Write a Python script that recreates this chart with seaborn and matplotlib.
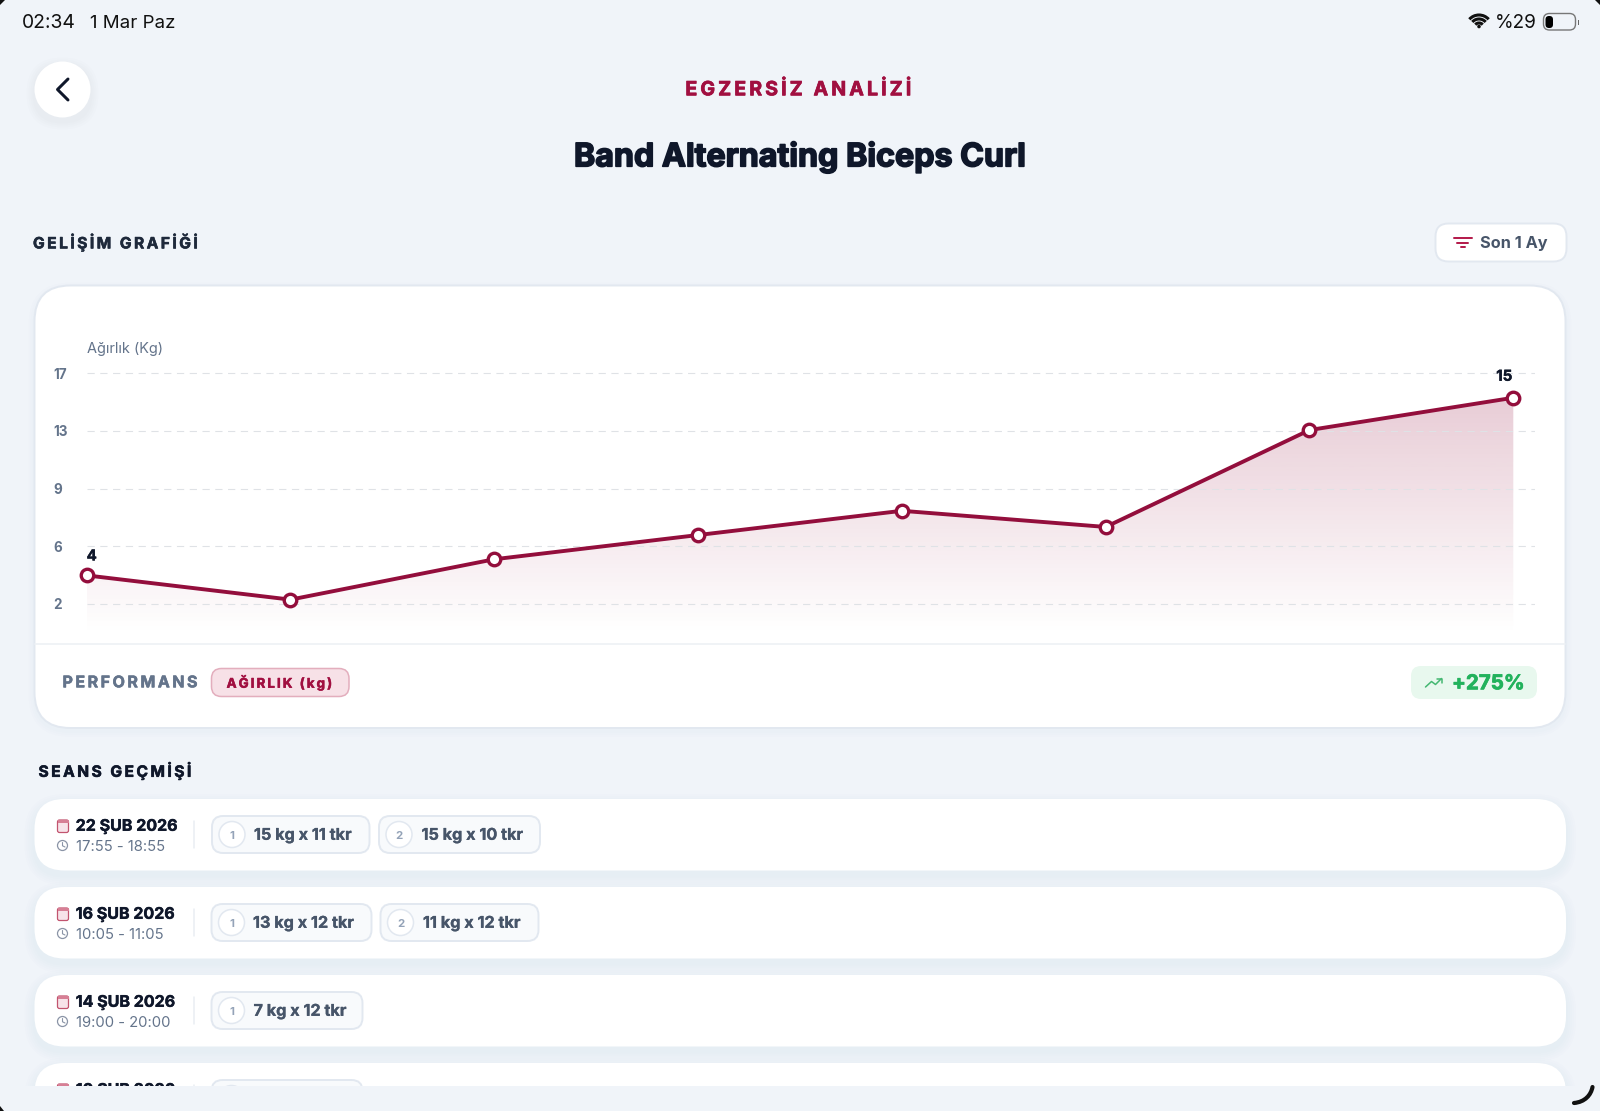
import numpy as np
import pandas as pd
import seaborn as sns
import matplotlib
matplotlib.use("Agg")
import matplotlib.pyplot as plt
import matplotlib.patheffects as pe
from matplotlib.patches import FancyBboxPatch, Circle, Rectangle, PathPatch, Polygon, Arc
from matplotlib.path import Path

# ---- data ----
weights = [4, 2.5, 5, 6.5, 8, 7, 13, 15]
point_ids = list(range(len(weights)))
y_tick_labels = ["17", "13", "9", "6", "2"]
y_tick_values = [16.53, 12.96, 9.37, 5.82, 2.25]
shown_labels = {0: "4", 7: "15"}
session_dates = ["22 ŞUB 2026", "16 ŞUB 2026", "14 ŞUB 2026", "10 ŞUB 2026"]
session_times = ["17:55 - 18:55", "10:05 - 11:05", "19:00 - 20:00", ""]
session_sets = [["15 kg x 11 tkr", "15 kg x 10 tkr"],
                ["13 kg x 12 tkr", "11 kg x 12 tkr"],
                ["7 kg x 12 tkr"],
                ["7 kg x 12 tkr"]]

BG = "#f0f4f9"
CRIM = "#930e3c"
INK = "#0f172a"
SLATE = "#64748b"
CHIP = "#475569"
LINE = "#e2e8f0"
W, H = 1600, 1111
FONT = "Inter"

sns.set_theme(style="white")
plt.rcParams["font.family"] = [FONT, "DejaVu Sans"]

fig = plt.figure(figsize=(W / 100, H / 100), dpi=100, facecolor=BG)
ui = fig.add_axes([0, 0, 1, 1], zorder=0)
ui.set_xlim(0, W)
ui.set_ylim(H, 0)
ui.axis("off")


def px(v):
    return v * 0.72


def spaced(s, sep="\u200a"):
    return sep.join(s)


def T(x, y, s, size, color=INK, weight="normal", ha="left", zorder=5, heavy=0, **kw):
    t = ui.text(x, y + 1.8, s, fontsize=px(size), color=color, fontweight=weight,
                ha=ha, va="center", zorder=zorder, **kw)
    if heavy:
        t.set_path_effects([pe.withStroke(linewidth=heavy, foreground=color)])
    return t


def box(x0, y0, x1, y1, r, fc="white", ec="none", lw=1.0, zorder=2, alpha=None):
    p = FancyBboxPatch((x0 + r, y0 + r), x1 - x0 - 2 * r, y1 - y0 - 2 * r,
                       boxstyle=f"round,pad={r},rounding_size={r}",
                       fc=fc, ec=ec, lw=lw, zorder=zorder, alpha=alpha)
    ui.add_patch(p)
    return p


def shadow(x0, y0, x1, y1, r, spread=10, dy=5, a=0.012):
    for k in range(spread, 0, -2):
        box(x0 - k, y0 - k + dy, x1 + k, y1 + k + dy, r + k, fc="#64748b",
            zorder=1.5, alpha=a)


# ---- status bar ----
T(22, 21.5, "02:34", 19.3, color="#111111")
T(89.5, 21.5, "1 Mar Paz", 18.7, color="#111111")
T(1495, 21.5, "%29", 19, color="#111111")
for r, lw in [(13, 2.2), (9, 2.2), (5, 2.2)]:
    ui.add_patch(Arc((1479, 28), 2 * r, 2 * r, theta1=222, theta2=318, lw=lw, color="#111111", zorder=5))
ui.add_patch(Circle((1479, 26.5), 1.8, fc="#111111", ec="none", zorder=5))
box(1543.5, 13.5, 1575.5, 30, 6, fc="none", ec="#777777", lw=1.0, zorder=5)
box(1545.5, 16, 1553, 28, 3.5, fc="#000000", zorder=5)
ui.add_patch(Rectangle((1577.5, 19.5), 1.3, 5, fc="#666666", ec="none", zorder=5))

# ---- header ----
shadow(34.5, 61.5, 90.5, 117.5, 28, spread=8, dy=4, a=0.012)
ui.add_patch(Circle((62.5, 89.5), 28, fc="white", ec="none", zorder=2))
ui.plot([68, 57.5, 68], [79, 89.5, 100], color=INK, lw=px(3), solid_capstyle="round",
        solid_joinstyle="round", zorder=5)
T(798.5, 88, spaced("EGZERSİZ ANALİZİ", "\u2009"), 19.6, color="#a10f40", weight="bold", ha="center", heavy=0.5)
T(799.5, 155.5, "Band Alternating Biceps Curl", 32.2, color=INK, weight="bold", ha="center", heavy=1.2)

T(33, 240.5, spaced("GELİŞİM GRAFİĞİ", "\u2009"), 15.6, color="#1e293b", weight="bold", heavy=0.4)

# filter button
box(1435.5, 223.5, 1566.5, 261.5, 13, fc="white", ec=LINE, lw=1.4)
for yy, a, b in [(237.5, 1453.5, 1471.5), (242.5, 1457, 1468), (247, 1460.5, 1465)]:
    ui.plot([a, b], [yy, yy], color="#b51e4d", lw=px(2), solid_capstyle="round", zorder=5)
T(1480, 241.5, "Son 1 Ay", 16.3, color=CHIP, weight="bold")

# ---- main card ----
shadow(34.5, 285.5, 1565.5, 728, 36, spread=6, dy=3, a=0.008)
box(34.5, 285.5, 1565.5, 728, 36, fc="white", ec=LINE, lw=1.4)
ui.plot([35, 1565], [643.5, 643.5], color="#eef1f5", lw=1.2, zorder=3)
T(62.5, 681, spaced("PERFORMANS", "\u2009"), 16, color=SLATE, weight="bold", heavy=0.4)
box(211.5, 668.5, 349, 696.5, 10, fc="#f7e1e7", ec="#e3aebd", lw=1.1, zorder=3)
T(279.5, 681.5, spaced("AĞIRLIK (kg)", "\u2009"), 13.3, color="#a10f40", weight="bold", ha="center", heavy=0.4)
box(1411, 666, 1537, 699, 10, fc="#e8f8ee", zorder=3)
ui.plot([1425.5, 1431.5, 1435.5, 1441.5], [687, 681.5, 684.5, 678.5], color="#45b872", lw=1.1, zorder=5)
ui.plot([1436.5, 1441.5, 1441.5], [678.5, 678.5, 683], color="#45b872", lw=1.1, zorder=5)
T(1452, 682.5, "+275%", 20.5, color="#22b25c", weight="bold", heavy=0.5)

# ---- session history ----
T(38.5, 769, spaced("SEANS GEÇMİŞİ", "\u2009"), 15.6, color=INK, weight="bold", heavy=0.4)

card_tops = [799, 887, 975, 1063]
chips_x = [[(212, 369.5), (379, 540)], [(211.5, 371.5), (380.5, 538.5)], [(211.5, 362.5)], [(211.5, 362.5)]]
text_dx = [[42, 42.5], [41.5, 42.5], [42], [42]]
for i, top in enumerate(card_tops):
    bot = top + 71.5
    shadow(34.5, top, 1566, bot, 30, spread=10, dy=5, a=0.009)
    box(34.5, top, 1566, bot, 30, fc="white")
    # calendar icon
    yc = top + 27
    box(57.5, yc - 6, 68.5, yc + 6.5, 2, fc="#f7e3e9", ec="#c2546f", lw=0.9, zorder=4)
    ui.add_patch(Rectangle((57.5, yc - 6), 11, 3, fc="#d77f95", ec="none", zorder=4))
    T(75.7, top + 25.5, session_dates[i], 16, color=INK, weight="bold", heavy=0.3)
    if session_times[i]:
        ui.add_patch(Circle((62.5, top + 46.5), 5, fc="none", ec="#8a94a6", lw=0.9, zorder=4))
        ui.plot([62.5, 62.5, 65], [top + 43.5, top + 46.8, top + 48], color="#8a94a6", lw=0.8, zorder=4)
        T(75.7, top + 46.5, session_times[i], 14.8, color=SLATE)
    ui.plot([194, 194], [top + 22, top + 49], color="#e9edf2", lw=1.1, zorder=4)
    for j, label in enumerate(session_sets[i]):
        x0, x1 = chips_x[i][j]
        box(x0, top + 17, x1, top + 54, 11, fc="#f8fafc", ec=LINE, lw=1.4, zorder=3)
        ui.add_patch(Circle((x0 + 20, top + 35.5), 13, fc="white", ec=LINE, lw=1.1, zorder=4))
        T(x0 + 20, top + 35, str(j + 1), 11.5, color="#94a3b8", weight="bold", ha="center")
        T(x0 + text_dx[i][j], top + 34.5, label, 16.2, color=CHIP, weight="bold", heavy=0.2)

# clip strip under the list
ui.add_patch(Rectangle((0, 1086), W, 30, fc=BG, ec="none", zorder=8))

# device corners
ui.add_patch(PathPatch(Path([(1574, 1103), (1585, 1102), (1591, 1095), (1592.5, 1087)],
                            [Path.MOVETO, Path.CURVE4, Path.CURVE4, Path.CURVE4]),
                       fc="none", ec="#111111", lw=3.0, capstyle="round", zorder=9))
ui.add_patch(Polygon([(0, 0), (5, 0), (0, 5)], fc="#111111", ec="none", zorder=9))
ui.add_patch(Polygon([(W, 0), (W - 5, 0), (W, 5)], fc="#111111", ec="none", zorder=9))
ui.add_patch(Polygon([(0, H), (4, H), (0, H - 5)], fc="#111111", ec="none", zorder=9))

# ---- chart ----
L, R, TOP, BOT = 86.7, 1535.0, 340.0, 640.0
ax = fig.add_axes([L / W, 1 - BOT / H, (R - L) / W, (BOT - TOP) / H], zorder=3)
ax.patch.set_alpha(0)
df = pd.DataFrame({"point": point_ids, "weight": weights})

xmax = (R - L) / 203.8
ymax = (BOT - TOP) / 16.15

grad = np.ones((256, 1, 4))
grad[..., :3] = matplotlib.colors.to_rgb(CRIM)
fade_top, fade_bot = max(weights), 0.3
yy = np.linspace(ymax, 0, 256)
grad[:, 0, 3] = 0.21 * np.clip((yy - fade_bot) / (fade_top - fade_bot), 0, 1)
im = ax.imshow(grad, extent=[0, xmax, 0, ymax], aspect="auto", zorder=1, interpolation="bilinear")
poly = Polygon(list(zip(point_ids, weights)) + [(point_ids[-1], 0), (0, 0)],
               closed=True, transform=ax.transData, fc="none", ec="none")
ax.add_patch(poly)
im.set_clip_path(poly)

sns.lineplot(data=df, x="point", y="weight", ax=ax, color=CRIM, linewidth=2.8,
             marker="o", markersize=9, markerfacecolor="white", markeredgecolor=CRIM,
             markeredgewidth=2.4, zorder=4, clip_on=False, errorbar=None)

ax.set_xlim(0, xmax)
ax.set_ylim(0, ymax)
ax.set_xticks([])
ax.set_xlabel("")
ax.set_yticks(y_tick_values)
ax.set_yticklabels(y_tick_labels, ha="left", color=SLATE, fontweight="bold", fontsize=px(13.5))
ax.tick_params(axis="y", length=0, pad=px(L - 53.5))
ax.grid(axis="y", color="#dfe2e6", linewidth=0.8, linestyle=(0, (6.5, 5)), zorder=2)
ax.set_axisbelow(False)
sns.despine(ax=ax, left=True, bottom=True)
ax.set_ylabel("Ağırlık (Kg)", rotation=0, ha="left", va="center", color=SLATE, fontsize=px(14.5))
ax.yaxis.set_label_coords(0, (BOT - 348.7) / (BOT - TOP))

offsets = {0: (5, 19), 7: (-9, 21)}
for i, s in shown_labels.items():
    a = ax.annotate(s, (point_ids[i], weights[i]), xytext=(px(offsets[i][0]), px(offsets[i][1])),
                    textcoords="offset points", ha="center", va="center",
                    fontsize=px(15), fontweight="bold", color=INK, annotation_clip=False, zorder=6)
    a.set_path_effects([pe.withStroke(linewidth=0.3, foreground=INK)])

fig.savefig("out.png", dpi=100, facecolor=BG)
